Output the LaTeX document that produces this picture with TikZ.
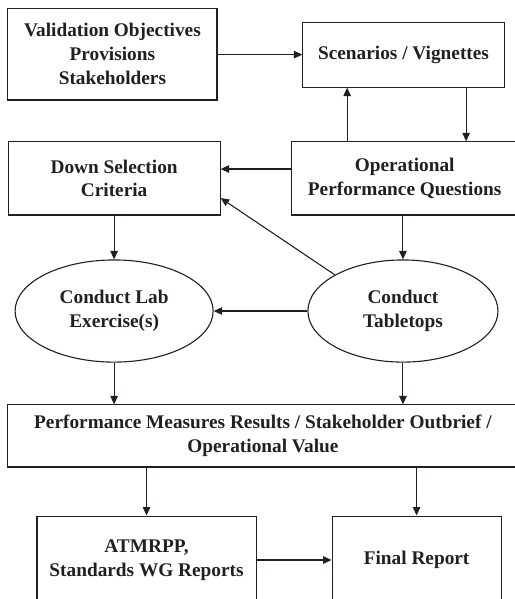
\documentclass[tikz,border=0pt]{standalone}
\usepackage{fontspec}
\setmainfont{Liberation Serif}
\usepackage{xcolor}
\usetikzlibrary{arrows.meta, positioning, shapes.geometric, calc}

\definecolor{ink}{RGB}{35,31,32}

\begin{document}
\begin{tikzpicture}[
  stage/.style={draw=ink, line width=1.1pt, text=ink, align=center,
                font=\fontsize{19.3}{23.7}\selectfont\bfseries,
                inner sep=2pt},
  boxed/.style={stage, rectangle},
  oval/.style ={stage, ellipse, inner sep=0pt},
  flow/.style ={draw=ink, line width=1.1pt,
                -{Triangle[length=8.5pt, width=7.5pt]}},
]

  \useasboundingbox (0, 0) rectangle (18.07, -21.05);

  % === Inputs ===
  \node[boxed, minimum width=7.35cm, minimum height=3.23cm] (valobj)
    at (3.95, -1.90) {Validation Objectives\\Provisions\\Stakeholders};
  \node[boxed, minimum width=7.07cm, minimum height=2.28cm] (scen)
    at (14.18, -1.92) {Scenarios / Vignettes};

  % === Selection / questions ===
  \node[boxed, minimum width=7.45cm, minimum height=2.57cm] (dsc)
    at (4.01, -6.27) {Down Selection\\Criteria};
  \node[boxed, minimum width=7.98cm, minimum height=2.57cm] (opq)
    at (14.22, -6.27) {Operational\\Performance Questions};

  % === Exercises ===
  \node[oval, minimum width=6.96cm, minimum height=3.59cm] (lab)
    at (4.01, -10.93) {Conduct Lab\\Exercise(s)};
  \node[oval, minimum width=6.68cm, minimum height=3.59cm] (ttop)
    at (14.16, -10.93) {Conduct\\Tabletops};

  % === Results ===
  \node[boxed, minimum width=17.93cm, minimum height=2.18cm] (pmr)
    at (9.24, -15.32)
    {Performance Measures Results / Stakeholder Outbrief /\\
     Operational Value};

  % === Reports ===
  \node[boxed, minimum width=7.70cm, minimum height=3.09cm] (atm)
    at (5.15, -19.68) {ATMRPP,\\Standards WG Reports};
  \node[boxed, minimum width=5.94cm, minimum height=3.09cm] (final)
    at (14.64, -19.68) {Final Report};

  % === Connectors ===
  \draw[flow] (valobj.east |- scen.west) -- (scen.west);
  \draw[flow] ([xshift=-2.02cm]opq.north) -- ([xshift=-2.02cm]opq.north |- scen.south);
  \draw[flow] ([xshift=2.16cm]opq.north |- scen.south) -- ([xshift=2.16cm]opq.north);
  \draw[flow] ([yshift=0.33cm]opq.west) -- ([yshift=0.33cm]opq.west -| dsc.east);
  \draw[flow] (ttop.152) -- ([yshift=-0.69cm]dsc.east);
  \draw[flow] (dsc.south) -- (lab.north);
  \draw[flow] (opq.south -| ttop.north) -- (ttop.north);
  \draw[flow] (ttop.west) -- (lab.east);
  \draw[flow] (lab.south) -- (lab.south |- pmr.north);
  \draw[flow] (ttop.south) -- (ttop.south |- pmr.north);
  \draw[flow] (pmr.south -| atm.north) -- (atm.north);
  \draw[flow] (pmr.south -| final.north) -- (final.north);
  \draw[flow] (atm.east) -- (final.west);

\end{tikzpicture}
\end{document}
